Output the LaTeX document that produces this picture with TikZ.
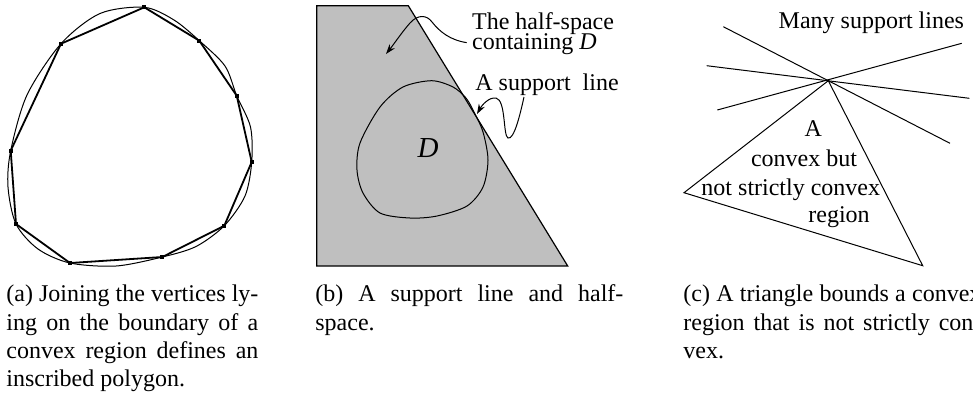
\documentclass[tikz,border=0pt]{standalone}
\usepackage{fontspec}
\setmainfont{Liberation Serif}
\usepackage{tikz}
\usetikzlibrary{arrows.meta,calc}
\definecolor{halfgray}{gray}{0.75}
\newcommand{\labelfont}{\fontsize{12}{14.15}\selectfont}
\newcommand{\captfont}{\labelfont\pretolerance=10000\tolerance=10000\hbadness=10000}
\tikzstyle{hull}  =[line width=0.5pt]
\tikzstyle{chord} =[line width=0.9pt, line join=round]
\tikzstyle{vtx}   =[rectangle, fill=black, inner sep=0pt, minimum size=2pt]
\tikzstyle{lbl}   =[inner sep=0pt, font=\labelfont]
\tikzstyle{capt}  =[inner sep=0pt, font=\captfont, anchor=base west, align=justify]
\tikzstyle{squig} =[-{Stealth[length=5pt,width=3.4pt]}, line width=0.5pt]

\begin{document}
\begin{tikzpicture}[x=0.5pt, y=-0.5pt]
  \useasboundingbox (0,0) rectangle (973,393);

  % ── (a) inscribed polygon ──────────────────────────────────────────────────
  \coordinate (v1)  at (144.3,7.3);
  \coordinate (v2)  at (199.3,40.7);
  \coordinate (v3)  at (236.7,95.7);
  \coordinate (v4)  at (251.7,162);
  \coordinate (v5)  at (224.3,225.7);
  \coordinate (v6)  at (162.3,257);
  \coordinate (v7)  at (70,263);
  \coordinate (v8)  at (16,224);
  \coordinate (v9)  at (10.7,150.7);
  \coordinate (v10) at (61,43.7);
  \draw[hull] plot[smooth cycle] coordinates {(v1) (174,20) (v2) (225,66) (v3) (250.5,127)
    (v4) (245,196) (v5) (196,246.5) (v6) (116,266) (v7) (38,249) (v8) (8,187)
    (v9) (27,95) (v10) (100,13.5)};
  \draw[chord] (v1) -- (v2) -- (v3) -- (v4) -- (v5) -- (v6) -- (v7) -- (v8) -- (v9) -- (v10) -- cycle;
  \foreach \i in {1,...,10}
    \node[vtx] (mark\i) at (v\i) {};

  % ── (b) support line and half-space ────────────────────────────────────────
  \coordinate (hs1) at (316.7,5.7);
  \coordinate (hs2) at (408.3,5.7);
  \coordinate (hs3) at (567.7,266);
  \coordinate (hs4) at (316.7,266);
  \fill[halfgray, draw=black, line width=0.6pt] (hs1) -- (hs2) -- (hs3) -- (hs4) -- cycle;
  \draw[hull] plot[smooth cycle] coordinates {(431.7,80.7) (453,87) (466,98) (474,112)
    (483,132) (488,160) (483,187) (467,206) (437,216) (410,218) (380,213) (363,193)
    (357,170) (360,143) (380,107) (403,87)};
  \node[inner sep=0pt, font=\fontsize{14.5}{17}\selectfont\itshape] (regD) at (428,148.5) {D};

  \node[lbl, anchor=base west] (halfA) at (471.7,29.5) {The half-space};
  \node[lbl, anchor=base west] (halfB) at (471.7,49) {containing \textit{D}};
  \node[lbl, anchor=base west] (supLbl) at (475,90.5) {A support\ \ line};
  \coordinate (halfTip) at (386,54);
  \coordinate (supStart) at (524,97);
  \coordinate (supTip) at (477,114);
  \draw[squig] ($(halfB.west)+(-5,-1)$) .. controls (450,40) and (440,32) .. (432,22)
    .. controls (427,15) and (418,14) .. (410,23) .. controls (402,32) and (394,44) .. (halfTip);
  \draw[squig] (supStart) .. controls (520,115) and (514,140) .. (508,138)
    .. controls (503,136) and (506,100) .. (496,98) .. controls (489,97) and (482,105) .. (supTip);

  % ── (c) triangle and support lines ─────────────────────────────────────────
  \coordinate (tA) at (828.3,80.7);
  \coordinate (tB) at (684,192.7);
  \coordinate (tC) at (922.7,265.7);
  \draw[hull] (tA) -- (tB) -- (tC) -- cycle;
  \draw[hull] (723.3,26.7) -- (950,143.3);
  \draw[hull] (706.7,65.7) -- (969.3,98.3);
  \draw[hull] (717.3,110) -- (961.7,43.3);
  \node[lbl, anchor=base west] (manyLbl) at (778.3,28) {Many support lines};
  \node[lbl, anchor=base] (triA) at (813.3,136.7) {A};
  \node[lbl, anchor=base] (triB) at (804,166.7) {convex but};
  \node[lbl, anchor=base] (triC) at (790.8,195) {not strictly convex};
  \node[lbl, anchor=base] (triD) at (839,222.5) {region};

  % ── captions ───────────────────────────────────────────────────────────────
  \node[capt, text width=126pt] (captA) at (6,301.7)
    {(a) Joining the vertices ly-\linebreak ing on the boundary of a\linebreak convex region defines an\linebreak inscribed polygon.};
  \node[capt, text width=154pt] (captB) at (315,301.7)
    {(b) A support line and half-\linebreak space.};
  \node[capt, text width=149pt] (captC) at (683,301.7)
    {(c) A triangle bounds a convex\linebreak region that is not strictly con-\linebreak vex.};

\end{tikzpicture}
\end{document}
